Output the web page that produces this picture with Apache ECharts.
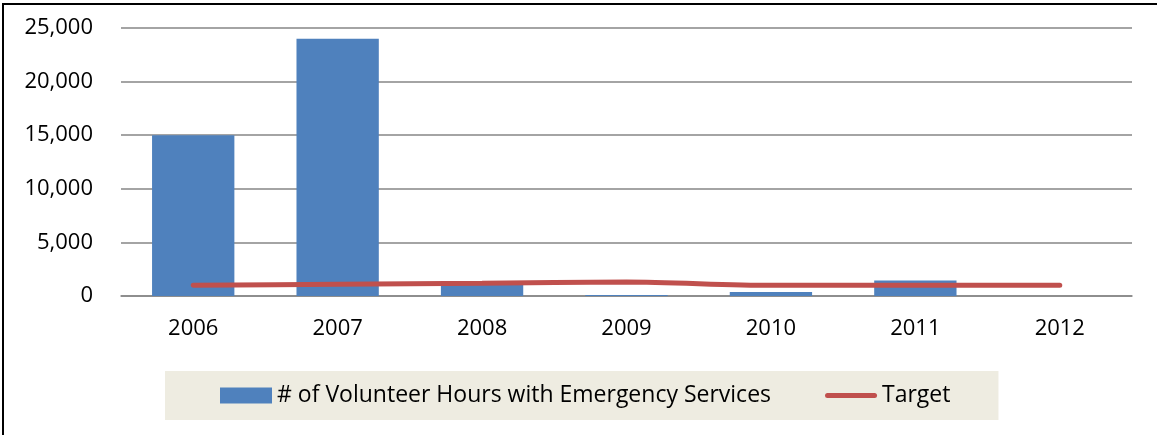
<!DOCTYPE html>
<html>
<head>
<meta charset="utf-8">
<script src="https://cdn.jsdelivr.net/npm/echarts@6/dist/echarts.min.js"></script>
<style>
  html, body { margin: 0; padding: 0; background: #fff; }
  #chart { position: absolute; left: 0; top: 0; width: 1157px; height: 435px; }
  .frame {
    position: absolute; left: 2px; top: 3px; width: 1160px; height: 440px;
    border-top: 2px solid #000; border-left: 2px solid #000;
    pointer-events: none;
  }
</style>
</head>
<body>
<div id="chart"></div>
<div class="frame"></div>
<script>
  // data
  var years = ['2006', '2007', '2008', '2009', '2010', '2011', '2012'];
  var volunteerHours = [15000, 24000, 1200, 100, 370, 1450, 0];
  var target = [1000, 1100, 1200, 1300, 1000, 1000, 1000];
  var yTicks = [0, 5000, 10000, 15000, 20000, 25000];

  var fontFamily = '"Open Sans", "Liberation Sans", sans-serif';

  // thick rounded stroke for the Target legend item; the two moveTo points keep the box at 52x16
  var lineIcon = 'path://M0,0 M52,16 M2.5,5.5 L49.5,5.5 A2.5,2.5 0 0 1 49.5,10.5 L2.5,10.5 A2.5,2.5 0 0 1 2.5,5.5 Z';

  var chart = echarts.init(document.getElementById('chart'));

  chart.setOption({
    animation: false,
    textStyle: { fontFamily: fontFamily },
    grid: {
      left: 121,
      right: 25,
      top: 28,
      bottom: 139
    },
    legend: {
      left: 165,
      top: 371,
      padding: [13, 48, 13, 55],
      backgroundColor: '#EEECE1',
      itemWidth: 52,
      itemHeight: 16,
      itemGap: 54,
      textStyle: { fontSize: 23, color: '#000', fontFamily: fontFamily },
      data: [
        { name: '# of Volunteer Hours with Emergency Services', icon: 'rect' },
        { name: 'Target', icon: lineIcon }
      ]
    },
    xAxis: {
      type: 'category',
      data: years,
      axisLine: { lineStyle: { color: '#868686', width: 1.5 } },
      axisTick: { show: false },
      axisLabel: { margin: 22, fontSize: 22, color: '#000' }
    },
    yAxis: {
      type: 'value',
      min: yTicks[0],
      max: yTicks[yTicks.length - 1],
      interval: 5000,
      axisLine: { show: false },
      axisTick: { show: false },
      splitLine: { lineStyle: { color: '#868686', width: 1.5 } },
      axisLabel: {
        margin: 28,
        fontSize: 22,
        color: '#000',
        formatter: function (v) { return v.toLocaleString('en-US'); }
      }
    },
    series: [
      {
        name: '# of Volunteer Hours with Emergency Services',
        type: 'bar',
        data: volunteerHours,
        barCategoryGap: '43%',
        itemStyle: { color: '#4F81BD' }
      },
      {
        name: 'Target',
        type: 'line',
        data: target,
        smooth: 0.3,
        symbol: 'none',
        lineStyle: { color: '#C0504D', width: 5, cap: 'round' },
        itemStyle: { color: '#C0504D' }
      }
    ]
  });
</script>
</body>
</html>
